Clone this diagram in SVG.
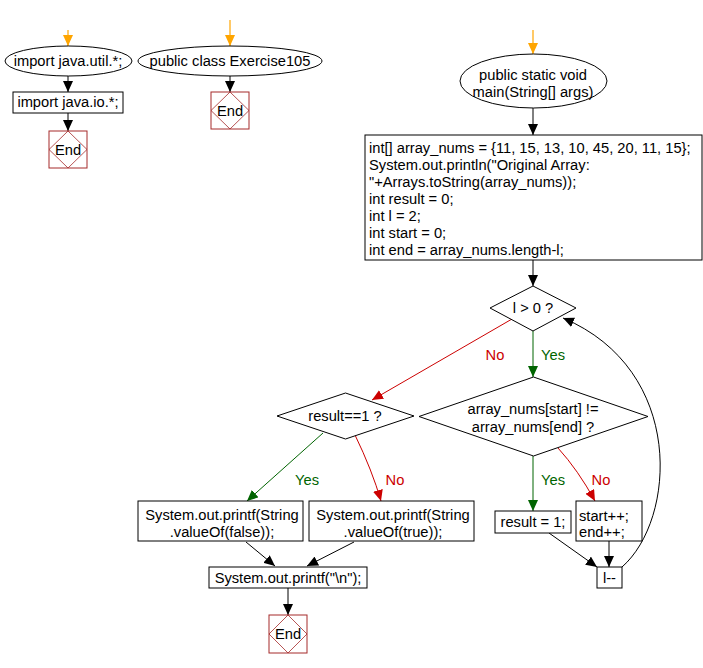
<svg xmlns="http://www.w3.org/2000/svg" width="703" height="668" viewBox="0 0 703 668">
<style>
text{font-family:"Liberation Sans",Arial,sans-serif;font-size:14.7px;fill:#000}
.c{text-anchor:middle}
.n{fill:#fff;stroke:#000;stroke-width:1}
.end rect{fill:#fff;stroke:#A52A2A;stroke-width:1}
.end path{fill:none;stroke:#A52A2A;stroke-width:0.8}
.e{fill:none;stroke:#000;stroke-width:1}
.o{fill:none;stroke:#FFA500;stroke-width:1.2}
.g{fill:none;stroke:#006400;stroke-width:1}
.r{fill:none;stroke:#CC0000;stroke-width:1}
.lg{fill:#006400}
.lr{fill:#CC0000}
</style>
<defs>
<marker id="ab" markerUnits="userSpaceOnUse" markerWidth="12" markerHeight="10" refX="11" refY="5" orient="auto"><path d="M0,0 L11,5 L0,10 Z" fill="#000"/></marker>
<marker id="ao" markerUnits="userSpaceOnUse" markerWidth="12" markerHeight="10" refX="11" refY="5" orient="auto"><path d="M0,0 L11,5 L0,10 Z" fill="#FFA500"/></marker>
<marker id="ag" markerUnits="userSpaceOnUse" markerWidth="12" markerHeight="10" refX="11" refY="5" orient="auto"><path d="M0,0 L11,5 L0,10 Z" fill="#006400"/></marker>
<marker id="ar" markerUnits="userSpaceOnUse" markerWidth="12" markerHeight="10" refX="11" refY="5" orient="auto"><path d="M0,0 L11,5 L0,10 Z" fill="#CC0000"/></marker>
</defs>
<rect width="703" height="668" fill="#fff"/>

<g id="connectors">
<line class="o" x1="68" y1="30" x2="68" y2="46" marker-end="url(#ao)"/>
<line class="e" x1="68" y1="76" x2="68" y2="92" marker-end="url(#ab)"/>
<line class="e" x1="68" y1="113" x2="68" y2="131" marker-end="url(#ab)"/>
<line class="o" x1="230" y1="20" x2="230" y2="46" marker-end="url(#ao)"/>
<line class="e" x1="230" y1="76" x2="230" y2="92" marker-end="url(#ab)"/>
<line class="o" x1="533" y1="30" x2="533" y2="54" marker-end="url(#ao)"/>
<line class="e" x1="533" y1="108" x2="533" y2="135" marker-end="url(#ab)"/>
<line class="e" x1="533" y1="260" x2="533" y2="286" marker-end="url(#ab)"/>
<line class="g" x1="533" y1="331" x2="533" y2="377" marker-end="url(#ag)"/>
<text class="c lg" x="553" y="360">Yes</text>
<line class="r" x1="512" y1="319" x2="372" y2="400" marker-end="url(#ar)"/>
<text class="c lr" x="495" y="360">No</text>
<path class="g" d="M323,433 L247,501" marker-end="url(#ag)"/>
<text class="c lg" x="307" y="485">Yes</text>
<path class="r" d="M355,435 Q372,470 381,501" marker-end="url(#ar)"/>
<text class="c lr" x="395" y="485">No</text>
<line class="g" x1="533" y1="456" x2="533" y2="511" marker-end="url(#ag)"/>
<text class="c lg" x="553" y="485">Yes</text>
<path class="r" d="M558,448 Q578,470 595,501" marker-end="url(#ar)"/>
<text class="c lr" x="601" y="485">No</text>
<line class="e" x1="246" y1="542" x2="275" y2="566" marker-end="url(#ab)"/>
<line class="e" x1="354" y1="542" x2="307" y2="566" marker-end="url(#ab)"/>
<line class="e" x1="288" y1="588" x2="288" y2="615" marker-end="url(#ab)"/>
<line class="e" x1="549" y1="533" x2="597" y2="567" marker-end="url(#ab)"/>
<line class="e" x1="609" y1="541" x2="609" y2="567" marker-end="url(#ab)"/>
<path class="e" d="M622,567 C676,520 686,370 563,318" marker-end="url(#ab)"/>
</g>

<g id="n1"><ellipse class="n" cx="68.5" cy="61" rx="63.5" ry="15"/><text class="c" x="68" y="66">import java.util.*;</text></g>
<g id="n2"><rect class="n" x="13" y="92" width="110" height="21"/><text class="c" x="68" y="107">import java.io.*;</text></g>
<g id="n3" class="end"><rect x="49" y="131" width="38" height="37"/><path d="M68,131 L87,149.5 L68,168 L49,149.5 Z"/><text class="c" x="68" y="155">End</text></g>
<g id="n4"><ellipse class="n" cx="230" cy="61" rx="92" ry="15"/><text class="c" x="230" y="66">public class Exercise105</text></g>
<g id="n5" class="end"><rect x="211" y="92" width="38" height="37"/><path d="M230,92 L249,110.5 L230,129 L211,110.5 Z"/><text class="c" x="230" y="116">End</text></g>
<g id="n6"><ellipse class="n" cx="533.5" cy="81" rx="73.5" ry="27"/><text class="c" x="533" y="80">public static void</text><text class="c" x="533" y="97">main(String[] args)</text></g>
<g id="n7"><rect class="n" x="365" y="135" width="337" height="125"/>
<text x="369" y="153">int[] array_nums = {11, 15, 13, 10, 45, 20, 11, 15};</text>
<text x="369" y="170">System.out.println("Original Array:</text>
<text x="369" y="187">"+Arrays.toString(array_nums));</text>
<text x="369" y="204">int result = 0;</text>
<text x="369" y="221">int l = 2;</text>
<text x="369" y="238">int start = 0;</text>
<text x="369" y="255">int end = array_nums.length-l;</text></g>
<g id="n8"><path class="n" d="M533,286 L576,308 L533,331 L490,308 Z"/><text class="c" x="533" y="313">l &gt; 0 ?</text></g>
<g id="n9"><path class="n" d="M533.5,377 L648,416.5 L533.5,456 L419,416.5 Z"/><text class="c" x="533" y="414">array_nums[start] !=</text><text class="c" x="533" y="432">array_nums[end] ?</text></g>
<g id="n10"><path class="n" d="M345.5,393 L414,416 L345.5,439 L277,416 Z"/><text class="c" x="345" y="421">result==1 ?</text></g>
<g id="n11"><rect class="n" x="138" y="501" width="165" height="40"/><text class="c" x="222" y="520">System.out.printf(String</text><text class="c" x="222" y="537">.valueOf(false));</text></g>
<g id="n12"><rect class="n" x="309" y="501" width="165" height="40"/><text class="c" x="393" y="520">System.out.printf(String</text><text class="c" x="393" y="537">.valueOf(true));</text></g>
<g id="n13"><rect class="n" x="209" y="567" width="158" height="21"/><text class="c" x="288" y="583">System.out.printf("\n");</text></g>
<g id="n14" class="end"><rect x="269" y="615" width="38" height="38"/><path d="M288,615 L307,634 L288,653 L269,634 Z"/><text class="c" x="288" y="639">End</text></g>
<g id="n15"><rect class="n" x="495" y="511" width="76" height="22"/><text class="c" x="533" y="527">result = 1;</text></g>
<g id="n16"><rect class="n" x="576" y="501" width="66" height="40"/><text x="579" y="521">start++;</text><text x="579" y="537">end++;</text></g>
<g id="n17"><rect class="n" x="597" y="567" width="25" height="21"/><text class="c" x="609.5" y="583">l--</text></g>
</svg>
